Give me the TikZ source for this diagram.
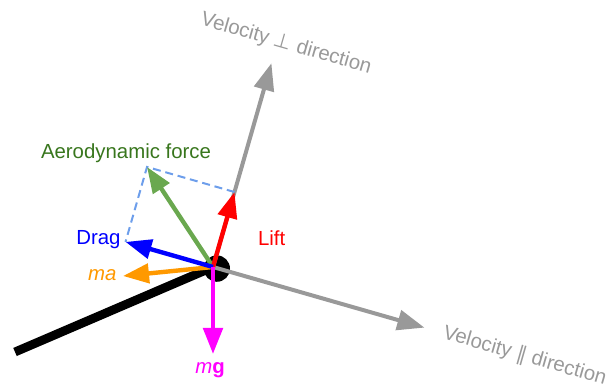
\documentclass[tikz,border=0pt]{standalone}
\usepackage{fontspec}
\setmainfont{Liberation Sans}
\newfontfamily\symfont{DejaVu Sans}
\usetikzlibrary{arrows.meta,calc}
\definecolor{velgray}{HTML}{999999}
\definecolor{aerogreen}{HTML}{6AA84F}
\definecolor{aerotext}{HTML}{38761D}
\definecolor{dashblue}{HTML}{6D9EEB}
\definecolor{maorange}{HTML}{FF9900}
\definecolor{mgpink}{HTML}{FF00FF}
\tikzset{
  force/.style={-{Triangle[length=0.65cm,width=0.48cm]}, line width=0.11cm},
  velaxis/.style={-{Triangle[length=0.68cm,width=0.5cm]}, line width=0.1cm, velgray},
  wingline/.style={line width=0.22cm, black},
  helper/.style={dashblue, line width=0.05cm, dash pattern=on 0.2cm off 0.12cm},
  flabel/.style={font=\fontsize{14.5}{17}\selectfont, inner sep=0pt},
  vlabel/.style={flabel, velgray, rotate=-16}
}

\begin{document}
\begin{tikzpicture}
  \useasboundingbox (0,0) rectangle (15.35,9.675);
  \coordinate (c) at (5.325,3);
  \coordinate (wing) at (0.375,0.875);
  \coordinate (par) at ($(c)+(-16:5.5)$);
  \coordinate (perp) at ($(c)+(74:5.3)$);
  \coordinate (lift) at ($(c)+(74:1.95)$);
  \coordinate (drag) at ($(c)+(164:2.275)$);
  \coordinate (aero) at ($(lift)+(drag)-(c)$);
  \coordinate (ma) at (3.075,2.775);
  \coordinate (mg) at (5.325,0.825);
  \draw[wingline] (wing) -- (c);
  \fill (5.42,2.96) circle (0.33);
  \draw[velaxis] (c) -- (par);
  \draw[velaxis] (c) -- (perp);
  \draw[helper] (lift) -- (aero) -- (drag);
  \draw[force, aerogreen] (c) -- (aero);
  \draw[force, red] (c) -- (lift);
  \draw[force, maorange] (c) -- (ma);
  \draw[force, blue] (c) -- (drag);
  \draw[force, mgpink] (c) -- (mg);
  \node[flabel, aerotext] (aerolbl) at (3.15,5.85) {Aerodynamic force};
  \node[flabel, blue] (draglbl) at (2.46,3.68) {Drag};
  \node[flabel, maorange] (malbl) at (2.56,2.8) {\textit{ma}};
  \node[flabel, red] (liftlbl) at (6.79,3.72) {Lift};
  \node[flabel, mgpink] (mglbl) at (5.25,0.425) {\textit{m}\textbf{g}};
  \node[vlabel] (perplbl) at (7.15,8.575) {Velocity {\symfont ⊥} direction};
  \node[vlabel] (parlbl) at (13.12,0.77) {Velocity {\symfont ∥} direction};
\end{tikzpicture}
\end{document}
